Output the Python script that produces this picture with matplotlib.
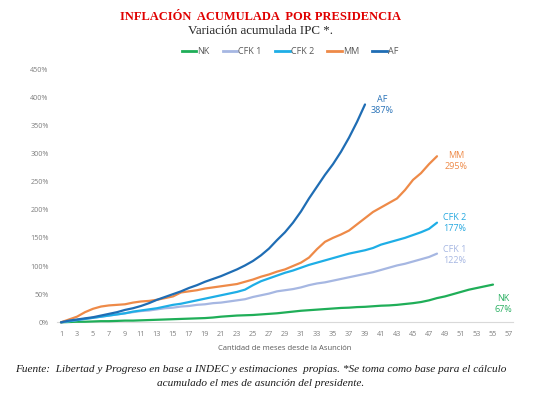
import matplotlib
matplotlib.use("Agg")
import matplotlib.pyplot as plt
from matplotlib.lines import Line2D

# ---------------- data ----------------
nk = [0, 0.5, 1, 1, 1.5, 2, 2, 2.5, 3, 3, 3.5, 4, 4.5, 5, 5.5, 6, 6.5, 7, 7.5, 8.5,
      10, 11, 12, 12.5, 13, 14, 15, 16, 17.5, 19, 20.5, 21.5, 22.5, 23.5, 24.5, 25.5,
      26, 27, 27.5, 28.5, 29.5, 30, 31, 32.5, 34, 36, 39, 43, 46, 50, 54, 58, 61, 64, 67]
cfk1 = [0, 2, 4, 6, 8, 10, 12, 14, 16, 18, 20, 21, 23, 25, 26, 28, 29, 31, 32, 34,
        35, 37, 39, 41, 45, 48, 51, 55, 57, 59, 62, 66, 69, 71, 74, 77, 80, 83, 86, 89,
        93, 97, 101, 104, 108, 112, 116, 122]
cfk2 = [0, 2, 4, 6, 8, 10, 12, 14, 16, 19, 21, 23, 25, 28, 31, 33, 36, 39, 42, 45,
        48, 51, 54, 58, 66, 73, 78, 83, 88, 92, 97, 102, 106, 110, 114, 118, 122, 125,
        128, 132, 138, 142, 146, 150, 155, 160, 166, 177]
mm = [0, 5, 10, 18, 24, 28, 30, 31, 32, 35, 37, 38, 40, 43, 46, 53, 55, 57, 60, 62,
      64, 66, 68, 72, 76, 81, 85, 90, 94, 100, 106, 115, 130, 143, 150, 156, 163, 174,
      185, 196, 204, 212, 220, 235, 253, 265, 281, 295]
af = [0, 3, 5, 7, 9, 12, 15, 18, 22, 25, 29, 34, 40, 45, 50, 55, 61, 66, 72, 77,
      82, 88, 94, 101, 109, 119, 131, 146, 160, 177, 197, 220, 241, 262, 281, 303,
      328, 356, 387]

series_names = ["NK", "CFK 1", "CFK 2", "MM", "AF"]
series_values = [nk, cfk1, cfk2, mm, af]
end_labels = ["NK\n67%", "CFK 1\n122%", "CFK 2\n177%", "MM\n295%", "AF\n387%"]

x_ticks = list(range(1, 58, 2))
y_ticks = list(range(0, 451, 50))

# ---------------- style ----------------
colors = ["#1fae58", "#a6b7e2", "#1eaee6", "#ee8a48", "#1f6db4"]
label_colors = ["#2bb063", "#a6b7e2", "#27a9e0", "#ee8a48", "#2a73b8"]
label_pos = [(56.3, 32), (50.2, 120), (50.2, 176), (50.4, 287), (41.1, 386)]

plt.rcParams["font.family"] = ["Open Sans", "DejaVu Sans"]

fig = plt.figure(figsize=(5.49, 3.98), dpi=100)
ax = fig.add_axes([57 / 549, (398 - 322.3) / 398, (513 - 57) / 549, (322.3 - 69) / 398])

for name, vals, c in zip(series_names, series_values, colors):
    ax.plot(range(1, len(vals) + 1), vals, color=c, lw=1.6, solid_capstyle="round",
            clip_on=False, zorder=3)

for txt, (lx, ly), c in zip(end_labels, label_pos, label_colors):
    ax.text(lx, ly, txt, color=c, fontsize=6.5, ha="center", va="center",
            linespacing=1.25)

ax.set_xlim(0.5, 57.5)
ax.set_ylim(0, 450)
ax.set_xticks(x_ticks)
ax.set_xticklabels([str(t) for t in x_ticks])
ax.set_yticks(y_ticks)
ax.set_yticklabels([f"{t}%" for t in y_ticks])
ax.tick_params(axis="both", length=0, labelsize=5.2, colors="#7f7f7f")
ax.tick_params(axis="x", pad=6)
ax.tick_params(axis="y", pad=6)
for s in ["top", "right", "left"]:
    ax.spines[s].set_visible(False)
ax.spines["bottom"].set_color("#d9d9d9")
ax.spines["bottom"].set_linewidth(0.8)
ax.set_xlabel("Cantidad de meses desde la Asunción", fontsize=5.5, color="#595959",
              labelpad=5)

# legend
handles = [Line2D([0], [0], color=c, lw=2) for c in colors]
fig.legend(handles, series_names, loc="center", bbox_to_anchor=(290 / 549, 1 - 52 / 398),
           ncol=5, frameon=False, fontsize=6.5, handlelength=1.6, handletextpad=0.1,
           columnspacing=1.5, labelcolor="#595959")

# titles
cx = 261 / 549
fig.text(cx, 1 - 17 / 398, "INFLACIÓN  ACUMULADA  POR PRESIDENCIA", color="#e00000",
         fontsize=9, fontweight="bold", family="Liberation Serif", ha="center",
         va="center")
fig.text(cx, 1 - 31 / 398, "Variación acumulada IPC *.", color="#262626",
         fontsize=9.4, family="Liberation Serif", ha="center", va="center")

# footnote
fig.text(cx, 1 - 370 / 398,
         "Fuente:  Libertad y Progreso en base a INDEC y estimaciones  propias. *Se toma como base para el cálculo",
         fontsize=8.15, style="italic", family="Liberation Serif", ha="center",
         va="center", color="#1a1a1a")
fig.text(cx, 1 - 384 / 398, "acumulado el mes de asunción del presidente.",
         fontsize=8.15, style="italic", family="Liberation Serif", ha="center",
         va="center", color="#1a1a1a")

fig.savefig("out.png", dpi=100)
